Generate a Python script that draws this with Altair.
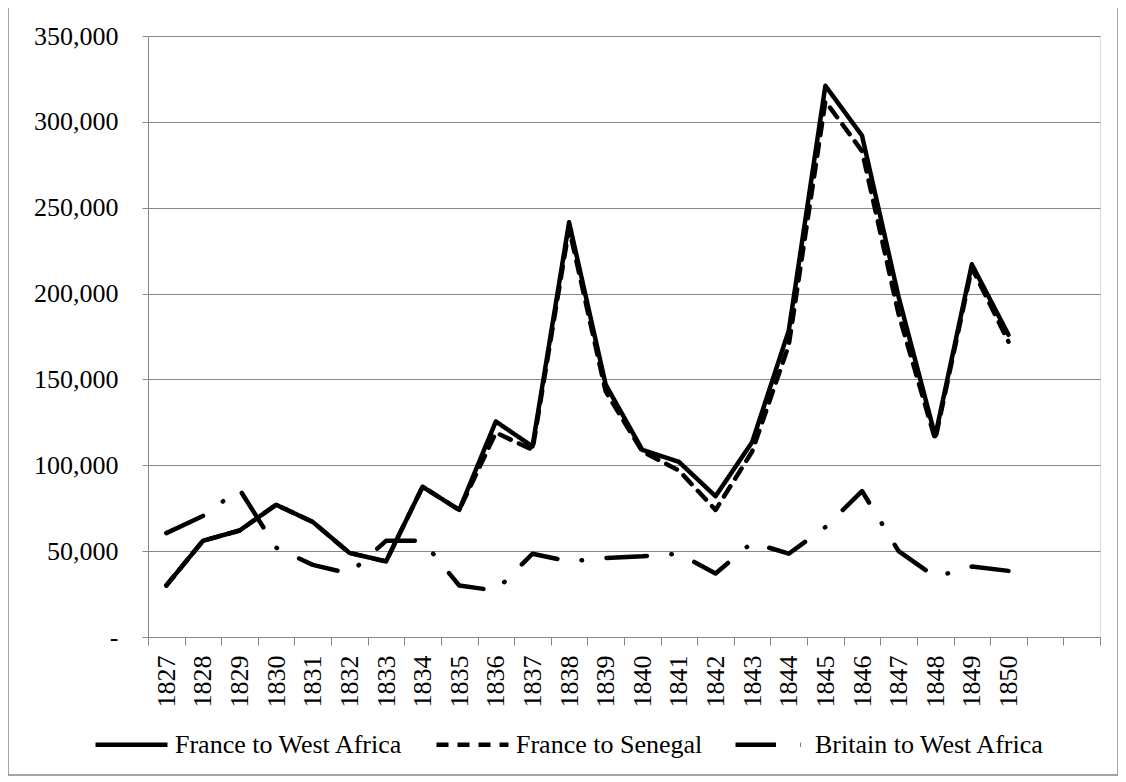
import altair as alt
import pandas as pd

years = list(range(1827, 1851))

france_west_africa = [30000, 56000, 62000, 77000, 67000, 49000, 44000, 87500, 74000,
                      125500, 111000, 241500, 147000, 109000, 102000, 82000, 113500,
                      178500, 321000, 292000, 198000, 117000, 217000, 176000]
france_senegal = [30000, 56000, 62000, 77000, 67000, 49000, 44000, 87500, 74000,
                  119000, 109000, 238000, 143000, 108000, 97000, 74000, 108000,
                  170000, 312000, 283000, 188000, 115000, 215000, 172000]
britain_west_africa = [60500, 70500, 86000, 52000, 42000, 37000, 56000, 56000, 30000,
                       27000, 48500, 44000, 46000, 47000, 48500, 37000, 55000,
                       48500, 64000, 85000, 50000, 35000, 41000, 38500]

series_names = ["France to West Africa", "France to Senegal", "Britain to West Africa"]
series_values = [france_west_africa, france_senegal, britain_west_africa]
draw_order = {"Britain to West Africa": 0, "France to Senegal": 1, "France to West Africa": 2}

rows = []
for name, vals in zip(series_names, series_values):
    for y, v in zip(years, vals):
        rows.append({"year": y, "value": v, "series": name, "order": draw_order[name]})
df = pd.DataFrame(rows)

FONT = "Liberation Serif"
GRAY = "#868686"
W, H = 952, 601
band = W / 26.0

tick_values = [1826.5 + k for k in range(27)]

lines = alt.Chart(df).mark_line(
    color="black", strokeWidth=4.5, strokeJoin="round", strokeCap="round"
).encode(
    x=alt.X("year:Q",
            scale=alt.Scale(domain=[1826.5, 1852.5], nice=False, zero=False),
            axis=alt.Axis(values=tick_values,
                          labelExpr="datum.value < 1850 ? toString(datum.value + 0.5) : ''",
                          labelOffset=band / 2, labelAngle=270, labelPadding=10,
                          labelFont=FONT, labelFontSize=26, labelColor="black",
                          labelOverlap=False, labelFlush=False, labelBound=False,
                          tickSize=8, tickColor=GRAY, tickWidth=1,
                          domainColor=GRAY, domainWidth=1, grid=False, title=None)),
    y=alt.Y("value:Q",
            scale=alt.Scale(domain=[0, 350000], nice=False),
            axis=alt.Axis(values=[0, 50000, 100000, 150000, 200000, 250000, 300000, 350000],
                          labelExpr="datum.value == 0 ? '-' : format(datum.value, ',')",
                          labelPadding=24, labelFont=FONT, labelFontSize=26,
                          labelColor="black", tickSize=6, tickColor=GRAY, tickWidth=1,
                          domainColor=GRAY, domainWidth=1, grid=True, gridColor=GRAY,
                          gridWidth=1, title=None)),
    strokeDash=alt.StrokeDash("series:N",
                              scale=alt.Scale(domain=series_names,
                                              range=[[1, 0], [12, 9], [40.5, 24.5, 0.5, 24.5]]),
                              legend=alt.Legend(orient="none", legendX=-55, legendY=670,
                                                direction="horizontal", title=None,
                                                symbolType="stroke", symbolSize=5184,
                                                symbolStrokeWidth=4.5, symbolStrokeColor="black",
                                                labelFont=FONT, labelFontSize=26,
                                                labelColor="black", labelOffset=5,
                                                columnPadding=23, labelLimit=400)),
    order=alt.Order("order:Q"),
    detail="series:N",
)

frame = alt.Chart(pd.DataFrame({"k": [0]})).mark_rect(
    fill=None, stroke=GRAY, strokeWidth=1.5
).encode(
    x=alt.value(-140), x2=alt.value(W + 18),
    y=alt.value(-29), y2=alt.value(H + 138),
)

chart = alt.layer(frame, lines).properties(
    width=W, height=H,
    padding={"left": 140, "top": 28, "right": 18, "bottom": 140},
    autosize=alt.AutoSizeParams(type="none"),
).configure_view(stroke=None).configure(background="white")

chart.save("out.html", embed_options={"renderer": "svg", "actions": False})
